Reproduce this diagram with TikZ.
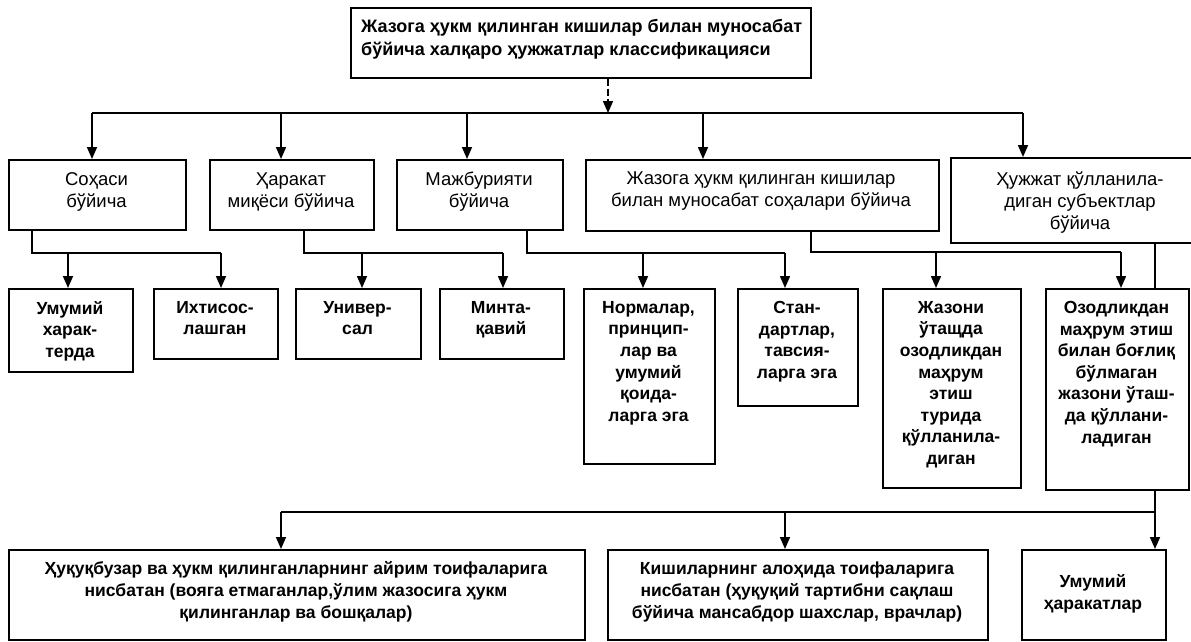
\documentclass[tikz,border=0pt]{standalone}
\usepackage{fontspec}
\setmainfont{Liberation Sans}
\usetikzlibrary{arrows.meta}
\begin{document}
\begin{tikzpicture}[x=1pt,y=-1pt,
  box/.style={draw, line width=1.6pt, inner sep=0pt, anchor=north west, fill=white},
  ln/.style={line width=1.6pt},
  arr/.style={line width=1.6pt, -{Triangle[length=12pt,width=10pt]}},
  ttop/.style={font=\fontsize{18}{23}\selectfont\bfseries, align=left, inner sep=0pt, anchor=west},
  tone/.style={font=\fontsize{18.5}{22}\selectfont, align=center, inner sep=0pt},
  ttwo/.style={font=\fontsize{17.5}{21.6}\selectfont\bfseries, align=center, inner sep=0pt, anchor=north},
  tbot/.style={font=\fontsize{17.5}{22}\selectfont\bfseries, align=center, inner sep=0pt}
]
\useasboundingbox[fill=white] (0,0) rectangle (1191,642);

% ---- boxes ----
\node[box, minimum width=460pt, minimum height=70pt] (top) at (350,7) {};
\node[box, minimum width=177pt, minimum height=70pt] (b1) at (8,159) {};
\node[box, minimum width=164pt, minimum height=70pt] (b2) at (209,159) {};
\node[box, minimum width=166pt, minimum height=70pt] (b3) at (396,159) {};
\node[box, minimum width=353pt, minimum height=71pt] (b4) at (585,159) {};
\node[box, minimum width=265pt, minimum height=85pt] (b5) at (950,157) {};

\node[box, minimum width=124pt, minimum height=83pt] (c1) at (8,288) {};
\node[box, minimum width=124pt, minimum height=70pt] (c2) at (153,288) {};
\node[box, minimum width=125pt, minimum height=70pt] (c3) at (295,288) {};
\node[box, minimum width=124pt, minimum height=70pt] (c4) at (439,288) {};
\node[box, minimum width=131pt, minimum height=175pt] (c5) at (583,288) {};
\node[box, minimum width=120pt, minimum height=117pt] (c6) at (737,288) {};
\node[box, minimum width=138pt, minimum height=199pt] (c7) at (882,288) {};
\node[box, minimum width=143pt, minimum height=201pt] (c8) at (1045,288) {};

\node[box, minimum width=576pt, minimum height=90pt] (d1) at (8,549) {};
\node[box, minimum width=380pt, minimum height=90pt] (d2) at (607,549) {};
\node[box, minimum width=144pt, minimum height=90pt] (d3) at (1021,549) {};

% ---- texts ----
\node[ttop] (topt) at (361,39) {Жазога ҳукм қилинган кишилар билан муносабат\\бўйича халқаро ҳужжатлар классификацияси};

\node[tone] (b1t) at (96.5,192) {Соҳаси\\бўйича};
\node[tone] (b2t) at (291,192) {Ҳаракат\\миқёси бўйича};
\node[tone] (b3t) at (479,192) {Мажбурияти\\бўйича};
\node[tone] (b4t) at (761,191) {Жазога ҳукм қилинган кишилар\\билан муносабат соҳалари бўйича};
\node[tone] (b5t) at (1080,203) {Ҳужжат қўлланила-\\диган субъектлар\\бўйича};

\node[ttwo] (c1t) at (70,301) {Умумий\\харак-\\терда};
\node[ttwo] (c2t) at (215,301) {Ихтисос-\\лашган};
\node[ttwo] (c3t) at (357.5,301) {Универ-\\сал};
\node[ttwo] (c4t) at (501,301) {Минта-\\қавий};
\node[ttwo] (c5t) at (648.5,301) {Нормалар,\\принцип-\\лар ва\\умумий\\қоида-\\ларга эга};
\node[ttwo] (c6t) at (797,301) {Стан-\\дартлар,\\тавсия-\\ларга эга};
\node[ttwo] (c7t) at (951,301) {Жазони\\ўтащда\\озодликдан\\маҳрум\\этиш\\турида\\қўлланила-\\диган};
\node[ttwo] (c8t) at (1116.5,301) {Озодликдан\\маҳрум этиш\\билан боғлиқ\\бўлмаган\\жазони ўташ-\\да қўллани-\\ладиган};

\node[tbot] (d1t) at (296,592) {Ҳуқуқбузар ва ҳукм қилинганларнинг айрим тоифаларига\\нисбатан (вояга етмаганлар,ўлим жазосига ҳукм\\қилинганлар ва бошқалар)};
\node[tbot] (d2t) at (797,592) {Кишиларнинг алоҳида тоифаларига\\нисбатан (ҳуқуқий тартибни сақлаш\\бўйича мансабдор шахслар, врачлар)};
\node[tbot] (d3t) at (1093,594) {Умумий\\ҳаракатлар};

% ---- top level connectors ----
\coordinate (j0) at (608,113);
\coordinate (k1) at (92,113);
\coordinate (k2) at (281,113);
\coordinate (k3) at (467,113);
\coordinate (k4) at (703,113);
\coordinate (k5) at (1023,113);
\draw[arr, dash pattern=on 7pt off 3pt] (top.south -| j0) -- (j0);
\draw[ln] (k1) -- (k5);
\draw[arr] (k1) -- (k1 |- b1.north);
\draw[arr] (k2) -- (k2 |- b2.north);
\draw[arr] (k3) -- (k3 |- b3.north);
\draw[arr] (k4) -- (k4 |- b4.north);
\draw[arr] (k5) -- (k5 |- b5.north);

% ---- second level connectors ----
\coordinate (g1) at (32,253);  \coordinate (g1a) at (68,253);  \coordinate (g1b) at (221,253);
\coordinate (g2) at (304,253); \coordinate (g2a) at (362,253); \coordinate (g2b) at (503,253);
\coordinate (g3) at (527,253); \coordinate (g3a) at (643,253); \coordinate (g3b) at (785,253);
\coordinate (g4) at (811,252); \coordinate (g4a) at (936,252); \coordinate (g4b) at (1121,252);
\draw[ln] (b1.south -| g1) -- (g1) -- (g1b);
\draw[arr] (g1a) -- (g1a |- c1.north);
\draw[arr] (g1b) -- (g1b |- c2.north);
\draw[ln] (b2.south -| g2) -- (g2) -- (g2b);
\draw[arr] (g2a) -- (g2a |- c3.north);
\draw[arr] (g2b) -- (g2b |- c4.north);
\draw[ln] (b3.south -| g3) -- (g3) -- (g3b);
\draw[arr] (g3a) -- (g3a |- c5.north);
\draw[arr] (g3b) -- (g3b |- c6.north);
\draw[ln] (b4.south -| g4) -- (g4) -- (g4b);
\draw[arr] (g4a) -- (g4a |- c7.north);
\draw[arr] (g4b) -- (g4b |- c8.north);

% ---- third level connectors ----
\coordinate (v5) at (1155,512);
\coordinate (h1) at (281,512);
\coordinate (h2) at (785,512);
\draw[ln] (b5.south -| v5) -- (c8.north -| v5);
\draw[ln] (h1) -- (v5);
\draw[arr] (c8.south -| v5) -- (d3.north -| v5);
\draw[arr] (h1) -- (h1 |- d1.north);
\draw[arr] (h2) -- (h2 |- d2.north);
\end{tikzpicture}
\end{document}
